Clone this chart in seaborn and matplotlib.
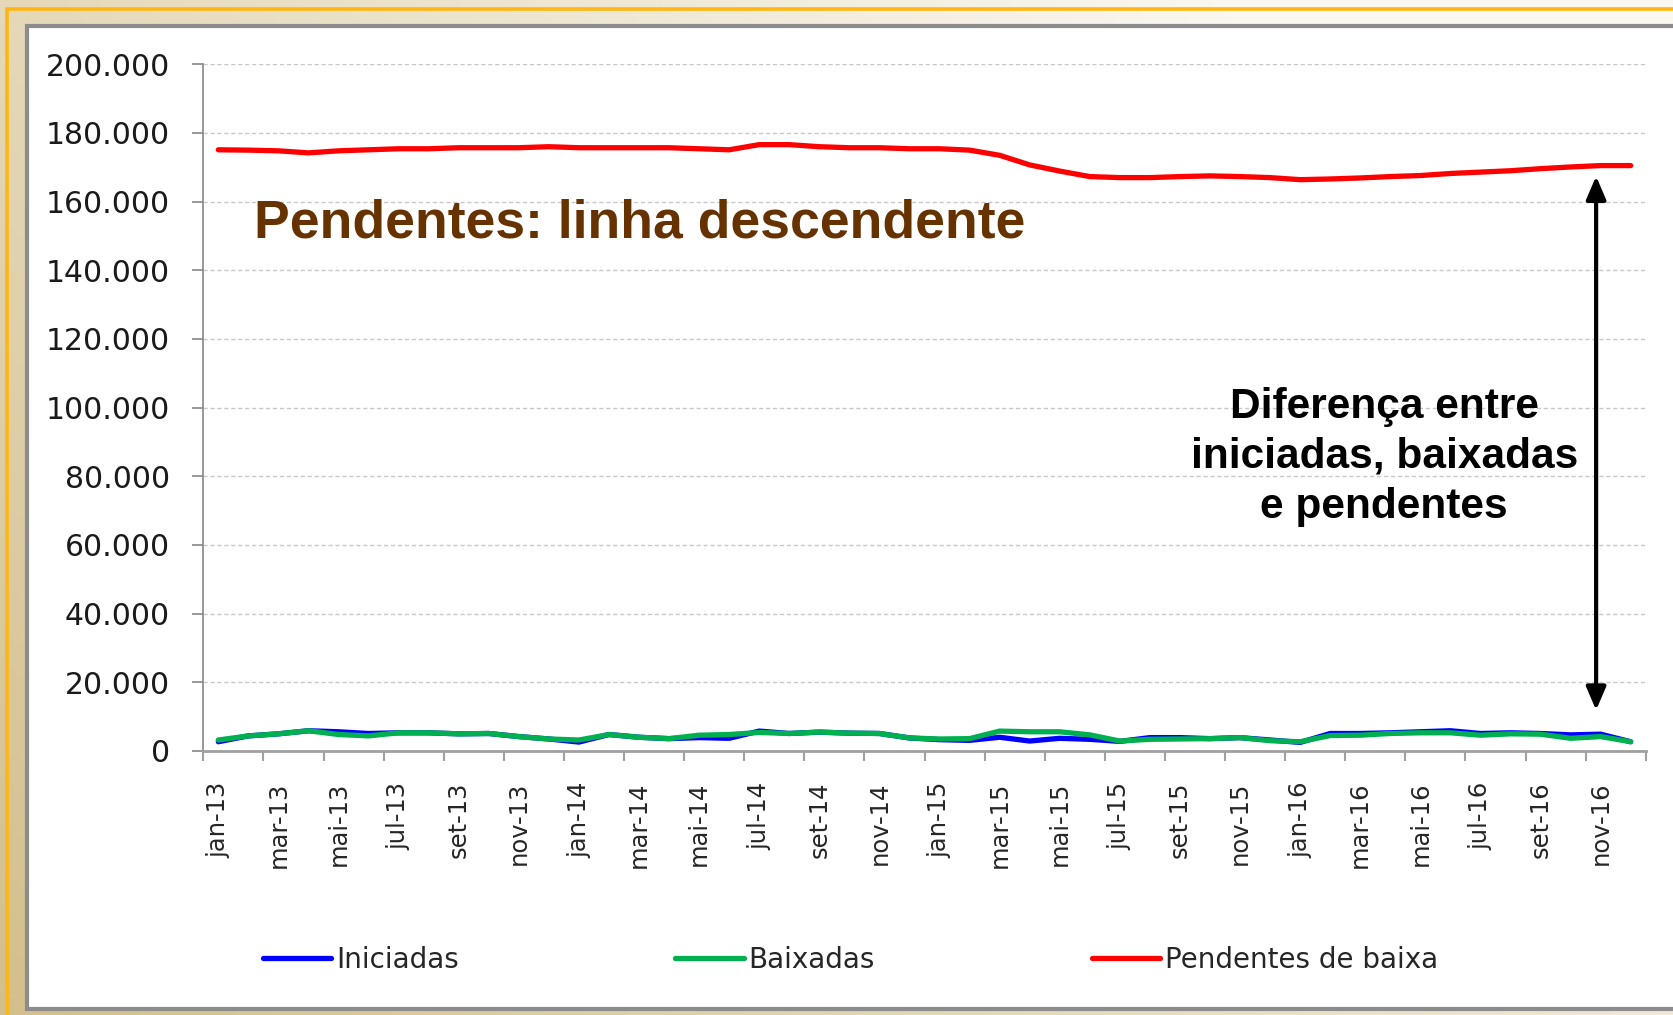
import numpy as np
import pandas as pd
import matplotlib
matplotlib.use("Agg")
import matplotlib.pyplot as plt
from matplotlib.patches import Rectangle
from matplotlib.ticker import FuncFormatter
import seaborn as sns

# Data
MONTHS = ['jan', 'fev', 'mar', 'abr', 'mai', 'jun', 'jul', 'ago', 'set', 'out', 'nov', 'dez']
YEARS = ['13', '14', '15', '16']
PERIODS = [f"{m}-{y}" for y in YEARS for m in MONTHS]

iniciadas = [2700, 4400, 5000, 5900, 5600, 5100, 5300, 5300, 5000, 5100, 4200, 3500,
             2600, 4800, 4000, 3600, 3900, 3700, 5800, 5100, 5500, 5200, 5100, 3800,
             3300, 3100, 4000, 2900, 3700, 3400, 2800, 3900, 3900, 3600, 3900, 3200,
             2500, 5100, 5100, 5300, 5600, 5900, 5100, 5300, 5100, 4700, 4900, 2700]
baixadas = [3200, 4400, 5000, 5900, 4800, 4400, 5300, 5300, 5000, 5100, 4200, 3500,
            3200, 4800, 4000, 3600, 4600, 4800, 5400, 5100, 5500, 5200, 5100, 3800,
            3500, 3600, 5800, 5600, 5600, 4700, 2900, 3400, 3500, 3600, 3900, 3000,
            2700, 4500, 4600, 5100, 5300, 5300, 4600, 5000, 4900, 3700, 4200, 2700]
pendentes = [175100, 175000, 174800, 174200, 174800, 175100, 175400, 175400, 175700, 175700,
             175700, 176000, 175700, 175700, 175700, 175700, 175400, 175100, 176600, 176600,
             176000, 175700, 175700, 175400, 175400, 175000, 173500, 170700, 168900, 167300,
             167000, 167000, 167300, 167500, 167300, 167000, 166400, 166600, 166900, 167300,
             167600, 168200, 168600, 169000, 169600, 170100, 170500, 170500]

SERIES = ['Iniciadas', 'Baixadas', 'Pendentes de baixa']
COLORS = ['#0000FF', '#00B050', '#FF0000']

W, H = 1673, 1015


def fx(x):
    return x / W


def fy(y):
    return 1 - y / H


df = pd.DataFrame({'idx': np.arange(len(PERIODS)), 'periodo': PERIODS,
                   'Iniciadas': iniciadas, 'Baixadas': baixadas,
                   'Pendentes de baixa': pendentes})
long_df = df.melt(id_vars=['idx', 'periodo'], value_vars=SERIES,
                  var_name='serie', value_name='valor')

sns.set_style("white")
plt.rcParams['font.family'] = ['DejaVu Sans']

fig = plt.figure(figsize=(W / 100, H / 100), dpi=100)

# beige gradient background
bg = fig.add_axes([0, 0, 1, 1], zorder=-10)
gx, gy = np.meshgrid(np.linspace(0, 1, 200), np.linspace(0, 1, 120))
grad = np.clip(0.75 * gx + 0.45 * (1 - gy), 0, 1)
c0 = np.array([0.83, 0.75, 0.55])
c1 = np.array([0.98, 0.97, 0.94])
img = c0[None, None, :] * (1 - grad[..., None]) + c1[None, None, :] * grad[..., None]
bg.imshow(img, aspect='auto', extent=[0, 1, 0, 1], origin='upper')
bg.set_axis_off()

# orange outer border and grey-edged white panel
fig.add_artist(Rectangle((fx(7), fy(1040)), fx(1720) - fx(7), fy(9) - fy(1040),
                         transform=fig.transFigure, facecolor='none',
                         edgecolor='#FFB612', linewidth=2.6, zorder=-5))
fig.add_artist(Rectangle((fx(26.5), fy(1009)), fx(1720) - fx(26.5), fy(26.5) - fy(1009),
                         transform=fig.transFigure, facecolor='white',
                         edgecolor='#8C8C8C', linewidth=3, zorder=-4))

ax = fig.add_axes([fx(203.3), fy(751), fx(1645.7) - fx(203.3), fy(64.3) - fy(751)])
ax.set_facecolor('white')

sns.lineplot(data=long_df, x='idx', y='valor', hue='serie', hue_order=SERIES,
             palette=COLORS, linewidth=3.8, ax=ax, legend=True)

ax.set_xlim(-0.5, len(PERIODS) - 0.5)
ax.set_ylim(0, 200000)
ax.set_xlabel('')
ax.set_ylabel('')

# y axis
ax.set_yticks(np.arange(0, 200001, 20000))
ax.yaxis.set_major_formatter(FuncFormatter(lambda v, p: f"{v:,.0f}".replace(",", ".")))
ax.yaxis.grid(True, linestyle=(0, (3, 2)), color='#C8C8C8', linewidth=1)
ax.tick_params(axis='y', which='major', left=True, length=8, width=1.2, color='#868686',
               pad=16, labelsize=21.5, labelcolor='#1A1A1A')

# x axis: labels every two months, tick marks between categories
ax.set_xticks(np.arange(0, len(PERIODS), 2))
ax.set_xticklabels(PERIODS[::2], rotation=90)
ax.set_xticks(np.arange(-0.5, len(PERIODS), 2), minor=True)
ax.tick_params(axis='x', which='major', bottom=True, length=0, pad=22, labelsize=17.5)
ax.tick_params(axis='x', which='minor', bottom=True, length=7, width=1.5, color='#A0A0A0')

for side in ['top', 'right']:
    ax.spines[side].set_visible(False)
ax.spines['left'].set_color('#868686')
ax.spines['left'].set_linewidth(1.2)
ax.spines['bottom'].set_color('#A0A0A0')
ax.spines['bottom'].set_linewidth(2)

# annotations
ax.text(1.19, 149700, 'Pendentes: linha descendente', ha='left', va='baseline',
        fontsize=38.5, fontweight='bold', color='#663300', family=['Liberation Sans', 'DejaVu Sans'])
ax.text(38.8, 85700, 'Diferença entre\niniciadas, baixadas\ne pendentes', ha='center', va='center',
        fontsize=30.5, fontweight='bold', color='black', linespacing=1.32,
        family=['Liberation Sans', 'DejaVu Sans'])
ax.annotate('', xy=(45.85, 11900), xytext=(45.85, 167400),
            arrowprops=dict(arrowstyle='<|-|>,head_length=0.7,head_width=0.3',
                            mutation_scale=20, color='black', lw=3,
                            shrinkA=0, shrinkB=0))

# legend at bottom
handles, labels = ax.get_legend_handles_labels()
ax.get_legend().remove()
leg = fig.legend(handles, labels, loc='center left', bbox_to_anchor=(fx(263), fy(960)),
                 ncol=3, frameon=False, fontsize=20, handlelength=2.45, handletextpad=0.18,
                 columnspacing=7.8, borderpad=0, borderaxespad=0)
for line in leg.get_lines():
    line.set_linewidth(3.8)

fig.savefig('out.png', dpi=100)
